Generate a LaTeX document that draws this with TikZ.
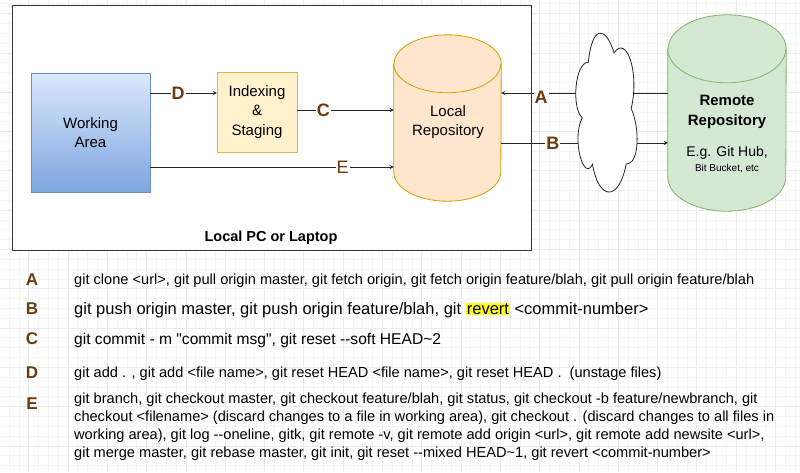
\documentclass[tikz,border=0pt]{standalone}
\usepackage{fontspec}
\setmainfont{Liberation Sans}[Ligatures=TeXOff]
\usetikzlibrary{positioning,calc}
\definecolor{tagbrown}{HTML}{6B3A0E}
\definecolor{wtop}{HTML}{DAE8FC}
\definecolor{wbot}{HTML}{7EA6E0}
\definecolor{wline}{HTML}{6C8EBF}
\definecolor{ifill}{HTML}{FFF2CC}
\definecolor{iline}{HTML}{D6B656}
\definecolor{lfill}{HTML}{FFE6CC}
\definecolor{lline}{HTML}{D79B00}
\definecolor{rfill}{HTML}{D5E8D4}
\definecolor{rline}{HTML}{82B366}
\definecolor{hilite}{HTML}{FFFF1A}
\tikzset{minorgrid/.style={draw=black!4, line width=0.5pt},
  majorgrid/.style={draw=black!8, line width=0.6pt},
  boxnode/.style={rectangle, align=center, font=\fontsize{15}{19.5}\selectfont},
  flow/.style={->, >=stealth, draw=black!85, line width=0.8pt},
  tag/.style={fill=white, inner sep=1pt, text=tagbrown, font=\fontsize{18}{18}\selectfont\bfseries},
  listtag/.style={text=tagbrown, font=\fontsize{17}{17}\selectfont\bfseries},
  listtext/.style={anchor=west, align=left, inner sep=0pt},}
% cylinder drawn round a body node: node, x radius, y radius, style
\newcommand{\drumshape}[4]{%
  \path[#4] ([yshift=-#3]#1.north west) -- ([yshift=#3]#1.south west)
    arc[start angle=180, end angle=360, x radius=#2, y radius=#3]
    -- ([yshift=-#3]#1.north east)
    arc[start angle=0, end angle=180, x radius=#2, y radius=#3] -- cycle;
  \draw[#4, fill=none] ([yshift=-#3]#1.north west)
    arc[start angle=180, end angle=360, x radius=#2, y radius=#3];}

\begin{document}
\begin{tikzpicture}[x=1pt, y=-1pt]
\useasboundingbox[fill=white] (0,0) rectangle (800,472);
% background grid
\foreach \i in {-1,...,81} \draw[minorgrid] ({8.95+\i*9.825},0) -- ++(0,472);
\foreach \i in {0,...,48} \draw[minorgrid] (0,{3.675+\i*9.825}) -- ++(800,0);
\foreach \i in {0,...,20} \draw[majorgrid] ({28.6+\i*39.3},0) -- ++(0,472);
\foreach \i in {0,...,12} \draw[majorgrid] (0,{13.5+\i*39.3}) -- ++(800,0);

% local machine
\node [draw=black!80, fill=white, line width=1pt, minimum width=519pt, minimum height=245pt] (pcbox) at (271.5,127.5) {};
\node [font=\fontsize{14.5}{14.5}\selectfont\bfseries] (pclabel) at (271,238) {Local PC or Laptop};
\node [boxnode, draw=wline, top color=wtop, bottom color=wbot, minimum width=119pt, minimum height=119pt] (work) at (90.5,132.5) {Working\\Area};
\node [boxnode, draw=iline, fill=ifill, minimum width=80pt, minimum height=80pt] (index) at (257,112) {Indexing\\\&\\Staging};
\node [minimum width=107pt, minimum height=166pt] (local) at (447.5,118) {};
\drumshape{local}{53.5pt}{29pt}{draw=lline, fill=lfill, line width=0.8pt}
\node [boxnode] (localtxt) at (448,122) {Local\\Repository};

% remote side
\node [minimum width=118pt, minimum height=196pt] (remote) at (727,113) {};
\drumshape{remote}{59pt}{34pt}{draw=rline, fill=rfill, line width=0.8pt}
\node [align=center, font=\fontsize{15}{20}\selectfont\bfseries] (remotetxt) at (727,112) {Remote\\Repository};
\node [align=center, font=\fontsize{14}{14}\selectfont] (github) at (727,153) {E.g. Git Hub,};
\node [align=center, font=\fontsize{10}{10}\selectfont] (bitbucket) at (727,169) {Bit Bucket, etc};

% connectors
\draw[flow] ([yshift=39.5pt]work.east) -- node[tag, pos=0.42] {D} ([yshift=19pt]index.west);
\draw[flow] ([yshift=2pt]index.east) -- node[tag, pos=0.27] {C} ([yshift=8pt]local.west);
\draw[flow] ([yshift=-34.5pt]work.east) -- node[tag, pos=0.79, font=\fontsize{18}{18}\selectfont] {E} ([yshift=-49pt]local.west);
\draw[flow] ([yshift=20pt]remote.west) -- node[tag, pos=0.76, yshift=-4pt] {A} ([yshift=25pt]local.east);
\draw[flow] ([yshift=-25pt]local.east) -- node[tag, pos=0.31] {B} ([yshift=-30pt]remote.west);
% network cloud
\draw[draw=black!85, fill=white, line width=0.8pt] (588.4,62.2)
  .. controls (574.7,62.2) and (571.3,108.55) .. (582.3,117.8)
  .. controls (571.3,138.2) and (583.6,182.75) .. (592.5,164.2)
  .. controls (598.7,201.3) and (619.25,201.3) .. (626.1,164.2)
  .. controls (639.8,164.2) and (639.8,127.1) .. (631.2,108.55)
  .. controls (639.8,71.45) and (626.1,34.35) .. (614.1,52.9)
  .. controls (605.55,25.1) and (591.9,25.1) .. (588.4,62.2) -- cycle;

% command list
\node [listtag] (tagA) at (32,280) {A};
\node [listtext, font=\fontsize{14.6}{17}\selectfont] (cmdA) at (74,281) {git clone <url>, git pull origin master, git fetch origin, git fetch origin feature/blah, git pull origin feature/blah};
\node [listtag] (tagB) at (32,309) {B};
\node [listtext, font=\fontsize{16.5}{19}\selectfont] (cmdB) at (74,310) {git push origin master, git push origin feature/blah, git {\setlength{\fboxsep}{1pt}\colorbox{hilite}{revert}} <commit-number>};
\node [listtag] (tagC) at (32,339) {C};
\node [listtext, font=\fontsize{15.6}{18}\selectfont] (cmdC) at (74,340.5) {git commit - m "commit msg", git reset --soft HEAD\textasciitilde 2};
\node [listtag] (tagD) at (32,373) {D};
\node [listtext, font=\fontsize{14.6}{17}\selectfont] (cmdD) at (74,374) {git add . , git add <file name>, git reset HEAD <file name>, git reset HEAD .\ \ (unstage files)};
\node [listtag] (tagE) at (32,404) {E};
\node [listtext, font=\fontsize{14.6}{17.7}\selectfont] (cmdE) at (74,426.7) {git branch, git checkout master, git checkout feature/blah, git status, git checkout -b feature/newbranch, git\\
checkout <filename> (discard changes to a file in working area), git checkout . (discard changes to all files in\\
working area), git log --oneline, gitk, git remote -v, git remote add origin <url>, git remote add newsite <url>,\\
git merge master, git rebase master, git init, git reset --mixed HEAD\textasciitilde 1, git revert <commit-number>};
\end{tikzpicture}
\end{document}
